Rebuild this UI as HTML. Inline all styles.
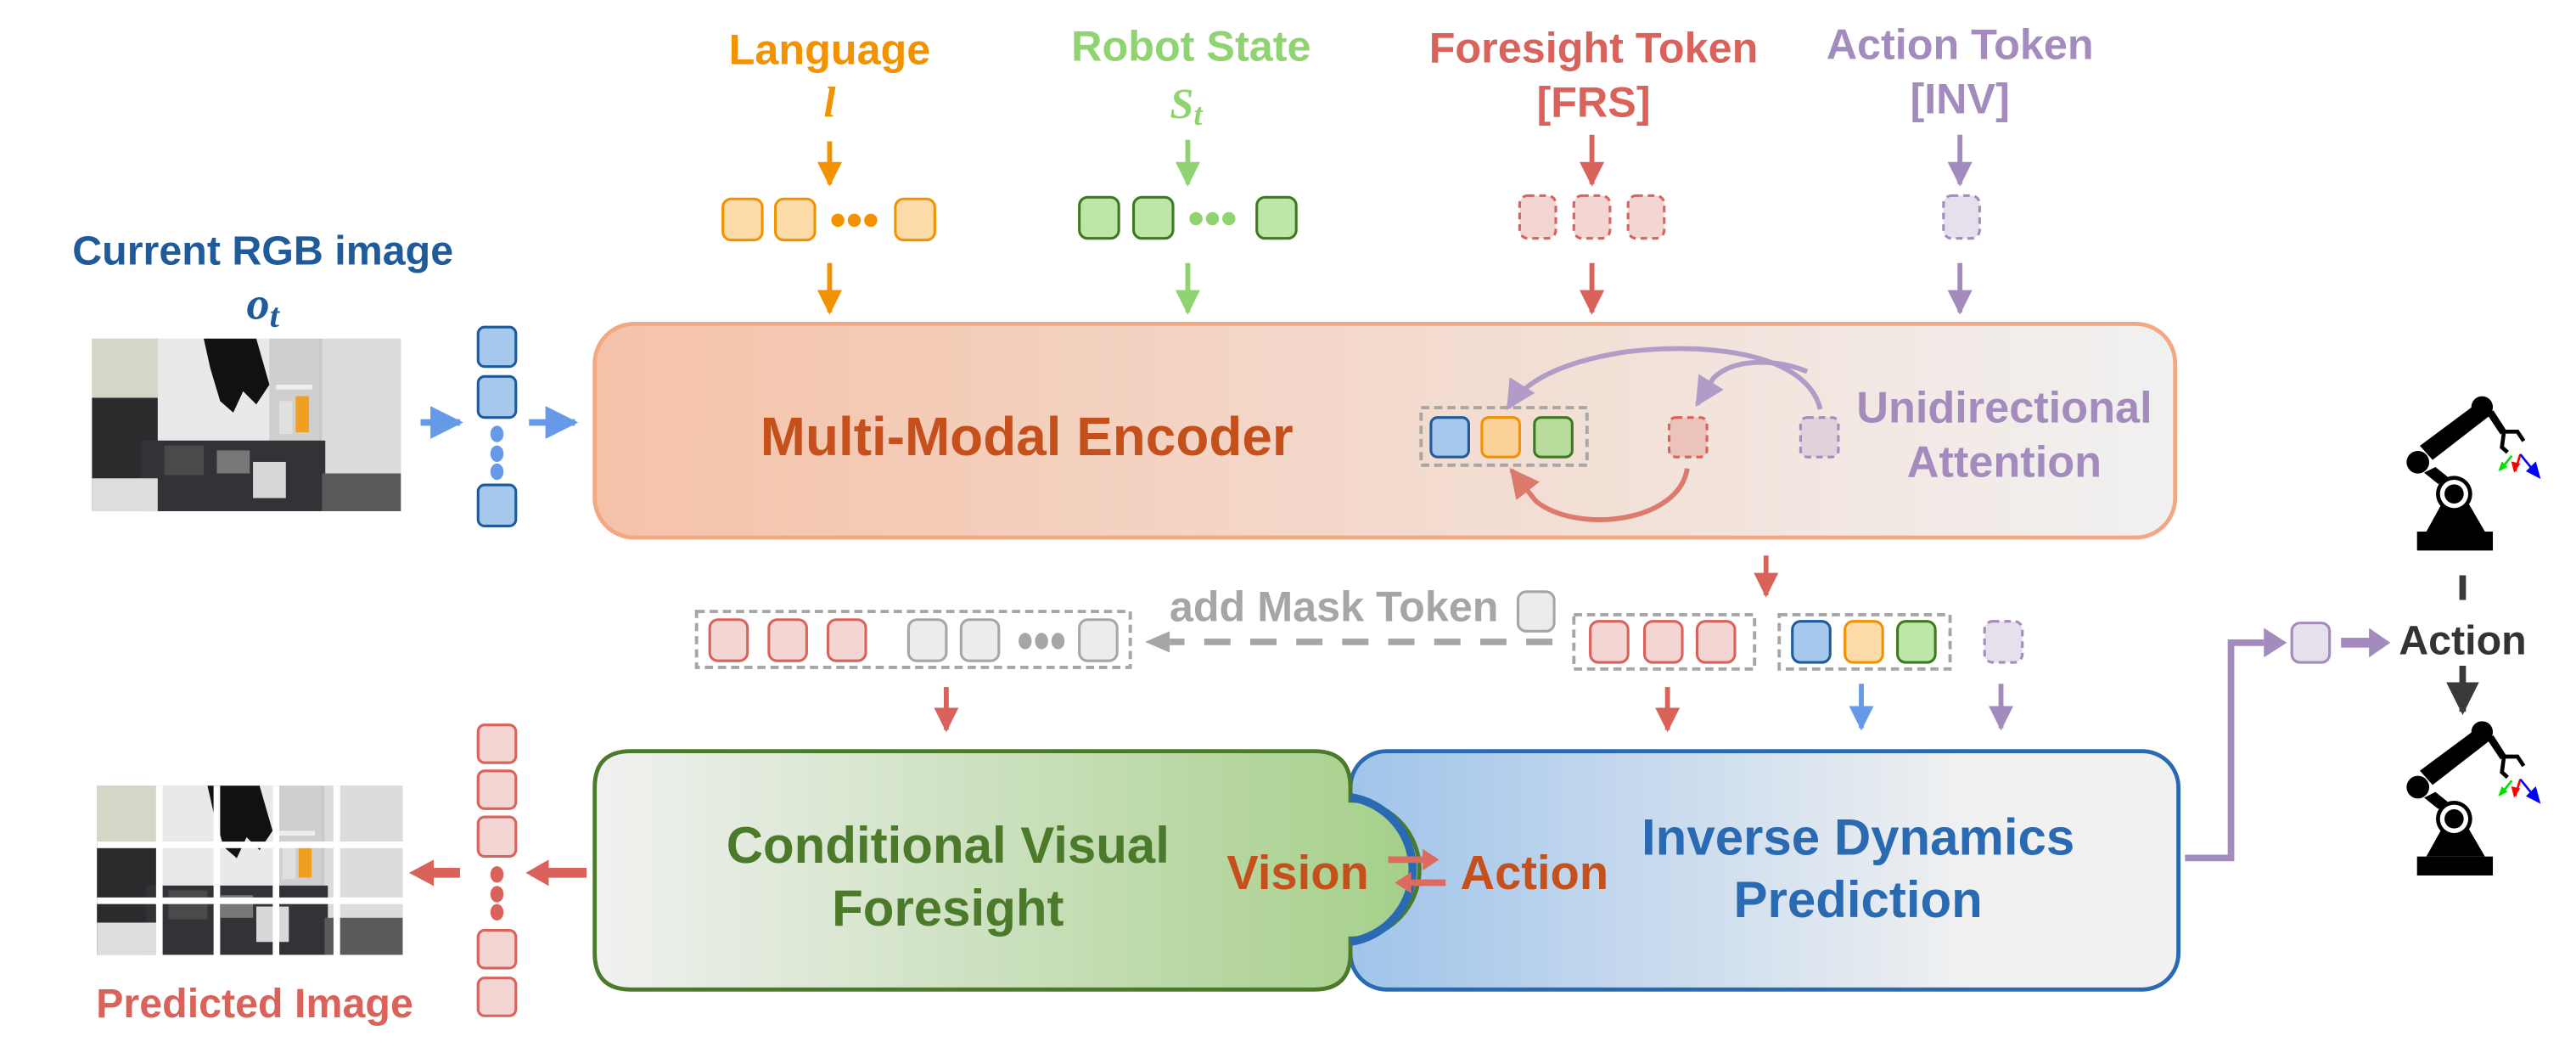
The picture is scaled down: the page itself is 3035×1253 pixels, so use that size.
<!DOCTYPE html>
<html><head><meta charset="utf-8"><style>
html,body{margin:0;padding:0;background:#fff}
svg{display:block}
text{font-family:"Liberation Sans",sans-serif;font-weight:bold}
text.m{font-family:"Liberation Serif",serif;font-style:italic}
</style></head><body>
<svg width="3035" height="1253" viewBox="0 0 1568 647.3" xmlns="http://www.w3.org/2000/svg">
<defs>
<linearGradient id="gEnc" x1="0" x2="1" y1="0" y2="0"><stop offset="0" stop-color="#f5c2a8"/><stop offset="1" stop-color="#f1f1f1"/></linearGradient>
<linearGradient id="gGreen" x1="362" x2="866" y1="0" y2="0" gradientUnits="userSpaceOnUse"><stop offset="0" stop-color="#f1f1f1"/><stop offset="1" stop-color="#a4cf88"/></linearGradient>
<linearGradient id="gBlue" x1="822" x2="1327" y1="0" y2="0" gradientUnits="userSpaceOnUse"><stop offset="0" stop-color="#a0c4ea"/><stop offset="0.75" stop-color="#f1f1f1"/><stop offset="1" stop-color="#f1f1f1"/></linearGradient>
<marker id="aO" viewBox="0 0 10 10" refX="9" refY="5" markerWidth="5" markerHeight="5" orient="auto"><path d="M0,0L10,5L0,10z" fill="#f39200"/></marker>
<marker id="aG" viewBox="0 0 10 10" refX="9" refY="5" markerWidth="5" markerHeight="5" orient="auto"><path d="M0,0L10,5L0,10z" fill="#8fd470"/></marker>
<marker id="aR" viewBox="0 0 10 10" refX="9" refY="5" markerWidth="5" markerHeight="5" orient="auto"><path d="M0,0L10,5L0,10z" fill="#d9625a"/></marker>
<marker id="aP" viewBox="0 0 10 10" refX="9" refY="5" markerWidth="5" markerHeight="5" orient="auto"><path d="M0,0L10,5L0,10z" fill="#a48bbd"/></marker>
<marker id="aB" viewBox="0 0 10 10" refX="9" refY="5" markerWidth="5" markerHeight="5" orient="auto"><path d="M0,0L10,5L0,10z" fill="#6699e8"/></marker>
<marker id="aK" viewBox="0 0 10 10" refX="9" refY="5" markerWidth="5" markerHeight="5" orient="auto"><path d="M0,0L10,5L0,10z" fill="#3a3a3a"/></marker>
<marker id="aPs" viewBox="0 0 10 10" refX="9" refY="5" markerWidth="6" markerHeight="6" orient="auto"><path d="M0,0L10,5L0,10z" fill="#b09cc6"/></marker>
<marker id="aRs" viewBox="0 0 10 10" refX="9" refY="5" markerWidth="6" markerHeight="6" orient="auto"><path d="M0,0L10,5L0,10z" fill="#dd7a6e"/></marker>
<g id="photo">
<rect x="0" y="0" width="188" height="105" fill="#c9c9c9"/>
<rect x="0" y="0" width="40" height="36" fill="#d6d6c8"/>
<rect x="0" y="36" width="42" height="69" fill="#2b2b2d"/>
<rect x="40" y="0" width="68" height="63" fill="#e9e9eb"/>
<rect x="108" y="0" width="30" height="68" fill="#cfcfcf"/>
<rect x="112" y="28" width="22" height="3" fill="#eee"/>
<rect x="124" y="35" width="8" height="22" fill="#f0a020"/>
<rect x="114" y="38" width="8" height="20" fill="#e0e0e0"/>
<rect x="140" y="0" width="48" height="82" fill="#dcdcdc"/>
<rect x="30" y="62" width="112" height="43" fill="#333337"/>
<rect x="44" y="65" width="24" height="18" fill="#4a4a4a"/>
<rect x="76" y="68" width="20" height="14" fill="#777"/>
<rect x="98" y="75" width="20" height="22" fill="#d8d8d8"/>
<rect x="140" y="82" width="48" height="23" fill="#5a5a5a"/>
<polygon points="68,0 100,0 108,28 100,40 92,32 86,45 78,38 72,18" fill="#111"/>
<rect x="0" y="85" width="40" height="20" fill="#ddd"/>
</g>
<g id="robot" transform="scale(0.1722)">
<rect x="85" y="558" width="268" height="67" fill="#000"/>
<polygon points="118,558 325,558 265,455 175,455" fill="#000"/>
<circle cx="216" cy="425" r="64" fill="#000"/>
<circle cx="216" cy="425" r="50" fill="#fff"/>
<circle cx="216" cy="425" r="34" fill="#000"/>
<polygon points="110,350 150,330 200,370 160,390" fill="#000"/>
<circle cx="88" cy="313" r="40" fill="#000"/>
<polygon points="95,255 290,110 340,150 140,305" fill="#000"/>
<circle cx="315" cy="118" r="38" fill="#000"/>
<polygon points="330,140 355,130 400,200 380,215" fill="#000"/>
<path d="M390,205 L440,205 L462,238 M392,208 L385,260 L405,278" stroke="#000" stroke-width="14" fill="none"/>
<path d="M420,290 L380,340" stroke="#00e000" stroke-width="8"/><polygon points="372,345 385,310 405,330" fill="#00e000"/>
<path d="M450,285 L432,345" stroke="#f00" stroke-width="8"/><polygon points="428,350 418,310 450,318" fill="#f00"/>
<path d="M450,285 L515,365" stroke="#00f" stroke-width="8"/><polygon points="522,372 505,310 470,345" fill="#00f"/>
</g>
</defs>

<text x="505" y="39" font-size="26" fill="#f39200" text-anchor="middle">Language</text>
<text x="505" y="71" font-size="26" fill="#f39200" text-anchor="middle" class="m">l</text>
<text x="725" y="37" font-size="26" fill="#8fd470" text-anchor="middle">Robot State</text>
<text x="722" y="72" font-size="26" fill="#8fd470" text-anchor="middle" class="m">S<tspan font-size="19" dy="4">t</tspan></text>
<text x="970" y="38" font-size="26" fill="#d9625a" text-anchor="middle">Foresight Token</text>
<text x="970" y="71" font-size="26" fill="#d9625a" text-anchor="middle">[FRS]</text>
<text x="1193" y="36" font-size="26" fill="#a48bbd" text-anchor="middle">Action Token</text>
<text x="1193" y="69" font-size="26" fill="#a48bbd" text-anchor="middle">[INV]</text>

<g stroke-width="3">
<line x1="505" y1="86" x2="505" y2="112" stroke="#f39200" marker-end="url(#aO)"/>
<line x1="505" y1="160" x2="505" y2="190" stroke="#f39200" marker-end="url(#aO)"/>
<line x1="723" y1="85" x2="723" y2="112" stroke="#8fd470" marker-end="url(#aG)"/>
<line x1="723" y1="160" x2="723" y2="190" stroke="#8fd470" marker-end="url(#aG)"/>
<line x1="969" y1="82" x2="969" y2="112" stroke="#d9625a" marker-end="url(#aR)"/>
<line x1="969" y1="160" x2="969" y2="190" stroke="#d9625a" marker-end="url(#aR)"/>
<line x1="1193" y1="82" x2="1193" y2="112" stroke="#a48bbd" marker-end="url(#aP)"/>
<line x1="1193" y1="160" x2="1193" y2="190" stroke="#a48bbd" marker-end="url(#aP)"/>
</g>

<g stroke-width="1.6">
<rect x="440" y="121" width="24" height="25" rx="5" fill="#fddba8" stroke="#f39200"/>
<rect x="472" y="121" width="24" height="25" rx="5" fill="#fddba8" stroke="#f39200"/>
<rect x="545" y="121" width="24" height="25" rx="5" fill="#fddba8" stroke="#f39200"/>
<rect x="657" y="120" width="24" height="25" rx="5" fill="#bde6a8" stroke="#3d7a1f"/>
<rect x="690" y="120" width="24" height="25" rx="5" fill="#bde6a8" stroke="#3d7a1f"/>
<rect x="765" y="120" width="24" height="25" rx="5" fill="#bde6a8" stroke="#3d7a1f"/>
<rect x="925" y="119" width="22" height="26" rx="5" fill="#f3d6d3" stroke="#d9625a" stroke-dasharray="4,3"/>
<rect x="958" y="119" width="22" height="26" rx="5" fill="#f3d6d3" stroke="#d9625a" stroke-dasharray="4,3"/>
<rect x="991" y="119" width="22" height="26" rx="5" fill="#f3d6d3" stroke="#d9625a" stroke-dasharray="4,3"/>
<rect x="1183" y="119" width="22" height="26" rx="5" fill="#e6e0ec" stroke="#a48bbd" stroke-dasharray="4,3"/>
</g>
<g fill="#f39200"><circle cx="510" cy="134" r="4"/><circle cx="520" cy="134" r="4"/><circle cx="530" cy="134" r="4"/></g>
<g fill="#8fd470"><circle cx="728" cy="133" r="4"/><circle cx="738" cy="133" r="4"/><circle cx="748" cy="133" r="4"/></g>

<text x="160" y="161" font-size="25" fill="#1f5a9a" text-anchor="middle">Current RGB image</text>
<text x="160" y="194" font-size="28" fill="#1f5a9a" text-anchor="middle" class="m">o<tspan font-size="21" dy="5">t</tspan></text>
<use href="#photo" transform="translate(56,206)"/>
<line x1="256" y1="257" x2="280" y2="257" stroke="#6699e8" stroke-width="4" marker-end="url(#aB)"/>
<line x1="322" y1="257" x2="350" y2="257" stroke="#6699e8" stroke-width="4" marker-end="url(#aB)"/>
<g fill="#a6c8ec" stroke="#1f5a9a" stroke-width="1.6">
<rect x="291" y="199" width="23" height="24" rx="4"/>
<rect x="291" y="229" width="23" height="25" rx="4"/>
<rect x="291" y="295" width="23" height="25" rx="4"/>
</g>
<g fill="#6699e8"><ellipse cx="302.5" cy="264" rx="4" ry="5"/><ellipse cx="302.5" cy="276" rx="4" ry="5"/><ellipse cx="302.5" cy="287" rx="4" ry="5"/></g>

<rect x="362" y="197" width="962" height="130" rx="24" fill="url(#gEnc)" stroke="#f2a882" stroke-width="2.5"/>
<text x="625" y="277" font-size="33" fill="#c5501b" text-anchor="middle">Multi-Modal Encoder</text>
<rect x="865" y="248" width="101" height="35" fill="none" stroke="#a6a6a6" stroke-width="2" stroke-dasharray="5,3"/>
<rect x="871" y="254" width="23" height="24" rx="4" fill="#a6c8ec" stroke="#1f5a9a" stroke-width="1.6"/>
<rect x="902" y="254" width="23" height="24" rx="4" fill="#fbd19a" stroke="#f39200" stroke-width="1.6"/>
<rect x="934" y="254" width="23" height="24" rx="4" fill="#b8dc9c" stroke="#3d7a1f" stroke-width="1.6"/>
<rect x="1016" y="254" width="23" height="24" rx="4" fill="#ecc3bb" stroke="#d9625a" stroke-width="1.6" stroke-dasharray="4,3"/>
<rect x="1096" y="254" width="23" height="24" rx="4" fill="#e0d2da" stroke="#a48bbd" stroke-width="1.6" stroke-dasharray="4,3"/>
<path d="M1108,249 C1100,215 1040,208 990,214 C950,220 928,232 918,248" fill="none" stroke="#b09cc6" stroke-width="3" marker-end="url(#aPs)"/>
<path d="M1100,226 C1080,218 1055,218 1043,230 L1033,246" fill="none" stroke="#b09cc6" stroke-width="3" marker-end="url(#aPs)"/>
<path d="M1027,285 C1022,318 960,325 935,305 L920,286" fill="none" stroke="#dd7a6e" stroke-width="3" marker-end="url(#aRs)"/>
<text x="1220" y="257" font-size="27" fill="#a48bbd" text-anchor="middle">Unidirectional</text>
<text x="1220" y="290" font-size="27" fill="#a48bbd" text-anchor="middle">Attention</text>

<line x1="1075" y1="338" x2="1075" y2="362" stroke="#d9625a" stroke-width="3" marker-end="url(#aR)"/>
<rect x="424" y="372" width="264" height="34" fill="none" stroke="#a6a6a6" stroke-width="2" stroke-dasharray="5,3"/>
<g stroke-width="1.6">
<rect x="432" y="377" width="23" height="25" rx="5" fill="#f3d6d3" stroke="#d9625a"/>
<rect x="468" y="377" width="23" height="25" rx="5" fill="#f3d6d3" stroke="#d9625a"/>
<rect x="504" y="377" width="23" height="25" rx="5" fill="#f3d6d3" stroke="#d9625a"/>
<rect x="553" y="377" width="23" height="25" rx="5" fill="#ececec" stroke="#a6a6a6"/>
<rect x="585" y="377" width="23" height="25" rx="5" fill="#ececec" stroke="#a6a6a6"/>
<rect x="657" y="377" width="23" height="25" rx="5" fill="#ececec" stroke="#a6a6a6"/>
</g>
<g fill="#a6a6a6"><ellipse cx="624" cy="390" rx="4" ry="5"/><ellipse cx="634" cy="390" rx="4" ry="5"/><ellipse cx="644" cy="390" rx="4" ry="5"/></g>
<text x="812" y="378" font-size="26" fill="#a6a6a6" text-anchor="middle">add Mask Token</text>
<rect x="924" y="360" width="22" height="24" rx="5" fill="#ececec" stroke="#a6a6a6" stroke-width="1.6"/>
<line x1="945" y1="390.5" x2="712" y2="390.5" stroke="#a6a6a6" stroke-width="4" stroke-dasharray="16,12"/>
<path d="M712,384 L697,390.5 L712,397 Z" fill="#a6a6a6"/>
<rect x="958" y="374" width="110" height="33" fill="none" stroke="#a6a6a6" stroke-width="2" stroke-dasharray="5,3"/>
<g stroke-width="1.6">
<rect x="968" y="378" width="23" height="25" rx="5" fill="#f3d6d3" stroke="#d9625a"/>
<rect x="1001" y="378" width="23" height="25" rx="5" fill="#f3d6d3" stroke="#d9625a"/>
<rect x="1033" y="378" width="23" height="25" rx="5" fill="#f3d6d3" stroke="#d9625a"/>
</g>
<rect x="1083" y="374" width="104" height="33" fill="none" stroke="#a6a6a6" stroke-width="2" stroke-dasharray="5,3"/>
<g stroke-width="1.6">
<rect x="1091" y="378" width="23" height="25" rx="5" fill="#a6c8ec" stroke="#1f5a9a"/>
<rect x="1123" y="378" width="23" height="25" rx="5" fill="#fddba8" stroke="#f39200"/>
<rect x="1155" y="378" width="23" height="25" rx="5" fill="#bde6a8" stroke="#3d7a1f"/>
<rect x="1208" y="378" width="23" height="25" rx="5" fill="#e6e0ec" stroke="#a48bbd" stroke-dasharray="4,3"/>
</g>
<g stroke-width="3">
<line x1="576" y1="418" x2="576" y2="444" stroke="#d9625a" marker-end="url(#aR)"/>
<line x1="1015" y1="418" x2="1015" y2="444" stroke="#d9625a" marker-end="url(#aR)"/>
<line x1="1133" y1="416" x2="1133" y2="443" stroke="#6699e8" marker-end="url(#aB)"/>
<line x1="1218" y1="416" x2="1218" y2="443" stroke="#a48bbd" marker-end="url(#aP)"/>
</g>

<rect x="822" y="457" width="504" height="145" rx="22" fill="url(#gBlue)" stroke="#2a6ab2" stroke-width="2.5"/>
<path d="M384,457 H800 Q822,457 822,479 V487 A42,42 0 0 1 822,571 V580 Q822,602 800,602 H384 Q362,602 362,580 V479 Q362,457 384,457 Z" fill="url(#gGreen)" stroke="#4a7a2a" stroke-width="2.5"/>
<path d="M822,485 A44.5,44.5 0 0 1 822,573" fill="none" stroke="#2a6ab2" stroke-width="5"/>
<text x="577" y="525" font-size="31" fill="#4a7a2a" text-anchor="middle">Conditional Visual</text>
<text x="577" y="563" font-size="31" fill="#4a7a2a" text-anchor="middle">Foresight</text>
<text x="790" y="541" font-size="29" fill="#c5501b" text-anchor="middle">Vision</text>
<text x="934" y="541" font-size="29" fill="#c5501b" text-anchor="middle">Action</text>
<path d="M845,521 H866 V516.5 L876,523 L866,529.5 V525 H845 Z" fill="#dd6a5e"/>
<path d="M880,535 H859 V530.5 L849,537 L859,543.5 V539 H880 Z" fill="#dd6a5e"/>
<text x="1131" y="520" font-size="31" fill="#2a6ab2" text-anchor="middle">Inverse Dynamics</text>
<text x="1131" y="558" font-size="31" fill="#2a6ab2" text-anchor="middle">Prediction</text>

<use href="#photo" transform="translate(59,478) scale(0.99,0.98)"/>
<g fill="#fff"><rect x="95" y="478" width="4" height="104"/><rect x="130" y="478" width="4" height="104"/><rect x="166" y="478" width="4" height="104"/><rect x="203" y="478" width="4" height="104"/>
<rect x="59" y="512" width="187" height="4"/><rect x="59" y="546" width="187" height="4"/></g>
<text x="155" y="619" font-size="25" fill="#d9625a" text-anchor="middle">Predicted Image</text>
<g fill="#f3d6d3" stroke="#d9625a" stroke-width="1.6">
<rect x="291" y="441" width="23" height="23" rx="4"/>
<rect x="291" y="469" width="23" height="23" rx="4"/>
<rect x="291" y="497" width="23" height="24" rx="4"/>
<rect x="291" y="566" width="23" height="23" rx="4"/>
<rect x="291" y="595" width="23" height="23" rx="4"/>
</g>
<g fill="#d9625a"><ellipse cx="302.5" cy="532" rx="4" ry="5"/><ellipse cx="302.5" cy="544" rx="4" ry="5"/><ellipse cx="302.5" cy="555" rx="4" ry="5"/></g>
<rect x="332" y="528" width="25" height="6" fill="#d9625a"/>
<path d="M334,523 L320,531 L334,539 Z" fill="#d9625a"/>
<rect x="263" y="528" width="17" height="6" fill="#d9625a"/>
<path d="M264,523 L249,531 L264,539 Z" fill="#d9625a"/>

<path d="M1330,522 H1358 V391 H1378" fill="none" stroke="#a48bbd" stroke-width="4"/>
<path d="M1378,382 L1392,391 L1378,400 Z" fill="#a48bbd"/>
<rect x="1395" y="379" width="23" height="24" rx="5" fill="#e6e0ec" stroke="#a48bbd" stroke-width="1.6"/>
<rect x="1425" y="388" width="18" height="6" fill="#a48bbd"/>
<path d="M1442,382 L1455,391 L1442,400 Z" fill="#a48bbd"/>
<text x="1499" y="398" font-size="25" fill="#333" text-anchor="middle">Action</text>
<rect x="1497" y="350" width="4" height="15" fill="#3a3a3a"/>
<line x1="1499" y1="405" x2="1499" y2="433" stroke="#3a3a3a" stroke-width="4" marker-end="url(#aK)"/>
<use href="#robot" transform="translate(1456.6,227.3)"/>
<use href="#robot" transform="translate(1456.6,425)"/>
</svg>
</body></html>
